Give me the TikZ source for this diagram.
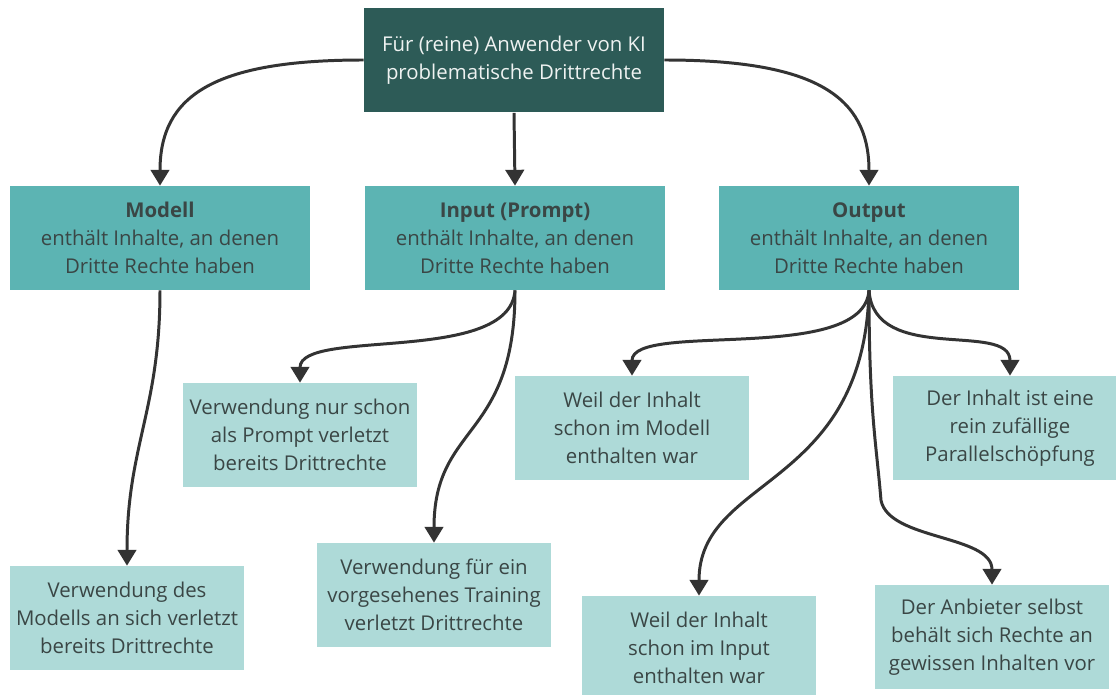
\documentclass[tikz,border=0pt]{standalone}
\usepackage{fontspec}
\setmainfont{Open Sans}
\usetikzlibrary{arrows.meta}

\definecolor{dunkel}{HTML}{2D5B57}
\definecolor{mittel}{HTML}{5CB4B3}
\definecolor{hell}{HTML}{AEDAD8}
\definecolor{schrift}{HTML}{3A4645}

\begin{document}
\begin{tikzpicture}[x=0.02cm, y=-0.02cm,
  wurzel/.style={fill=dunkel, text=white!92!dunkel, minimum width=6cm, minimum height=2.1cm,
    align=center, font=\fontsize{11.6}{16}\selectfont},
  ast/.style={fill=mittel, text=schrift, minimum width=6cm, minimum height=2.08cm,
    align=center, font=\fontsize{11.6}{16}\selectfont},
  blatt/.style={fill=hell, text=schrift, minimum width=4.68cm, minimum height=2.08cm,
    align=center, font=\fontsize{11.6}{16}\selectfont},
  pfeil/.style={-{Triangle[width=10.5pt,length=9pt]}, line width=1.7pt, draw=black!80}
]
  \useasboundingbox (0,0) rectangle (1116,695);

  % Define the common second line of the middle boxes
  \def\rechte{enthält Inhalte, an denen\\Dritte Rechte haben}

  % Draw the root
  \node[wurzel] (wurzel) at (514,60) {Für (reine) Anwender von KI\\problematische Drittrechte};

  % Draw the three branches
  \node[ast] (modell) at (160,238) {\textbf{Modell}\\\rechte};
  \node[ast] (input)  at (515,238) {\textbf{Input (Prompt)}\\\rechte};
  \node[ast] (output) at (869,238) {\textbf{Output}\\\rechte};

  % Draw the leaves
  \node[blatt] (prompt)   at (300,435) {Verwendung nur schon\\als Prompt verletzt\\bereits Drittrechte};
  \node[blatt] (immodell) at (632,428) {Weil der Inhalt\\schon im Modell\\enthalten war};
  \node[blatt] (zufall)   at (1010,428) {Der Inhalt ist eine\\rein zufällige\\Parallelschöpfung};
  \node[blatt] (ansich)   at (127,618) {Verwendung des\\Modells an sich verletzt\\bereits Drittrechte};
  \node[blatt] (training) at (434,595) {Verwendung für ein\\vorgesehenes Training\\verletzt Drittrechte};
  \node[blatt] (iminput)  at (699,648) {Weil der Inhalt\\schon im Input\\enthalten war};
  \node[blatt] (anbieter) at (992,637) {Der Anbieter selbst\\behält sich Rechte an\\gewissen Inhalten vor};

  % Draw the arrows from the root
  \draw[pfeil] (wurzel.west) .. controls +(-150,0) and +(0,-90) .. (modell.north);
  \draw[pfeil] (wurzel.south) -- (input.north);
  \draw[pfeil] (wurzel.east) .. controls +(150,0) and +(0,-90) .. (output.north);

  % Draw the arrows from the branches
  \draw[pfeil] (modell.south) .. controls +(0,120) and +(0,-120) .. (ansich.north);
  \draw[pfeil] (input.south) .. controls +(-5,75) and +(0,-55) .. (prompt.north);
  \draw[pfeil] (input.south) .. controls +(0,150) and +(0,-120) .. (training.north);
  \draw[pfeil] (output.south) .. controls +(-5,75) and +(0,-55) .. (immodell.north);
  \draw[pfeil] (output.south) .. controls +(5,75) and +(0,-55) .. (zufall.north);
  \draw[pfeil] (output.south) .. controls +(-5,200) and +(0,-120) .. (iminput.north);
  \draw[pfeil] (output.south) .. controls +(0,120) and +(-5,-60) .. ++(12,210)
    .. controls +(8,40) and +(0,-50) .. (anbieter.north);

\end{tikzpicture}
\end{document}
